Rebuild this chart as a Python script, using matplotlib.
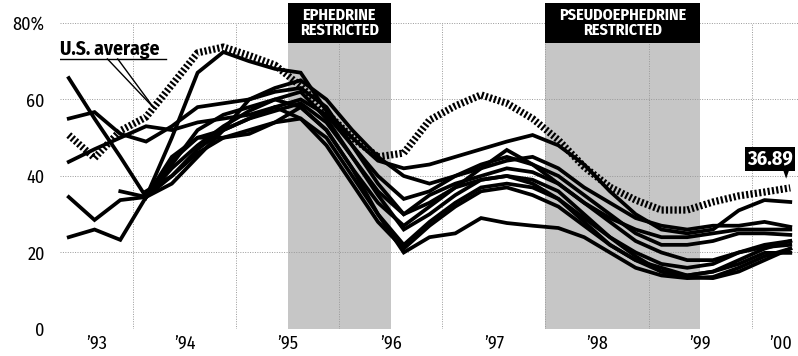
import numpy as np
import matplotlib
matplotlib.use('Agg')
from matplotlib import pyplot as plt
from matplotlib.patches import Polygon

plt.rcParams['font.family'] = ['Fira Sans Condensed', 'DejaVu Sans']

# quarterly points, 1992 Q4 .. 1999 Q4 (centre of each quarter)
quarter_start = 1992.75 + 0.25 * np.arange(29)
x = quarter_start + 0.125

us_average = [50.7, 44.7, 51.8, 55.4, 63.8, 72.2, 73.7, 71.5, 69.0, 63.5,
              56.5, 50.0, 45.0, 46.0, 54.6, 58.3, 61.2, 59.0, 55.0, 49.4,
              42.4, 37.1, 33.7, 31.1, 31.1, 33.2, 34.8, 35.8, 36.89]

nan = np.nan
states = [
    [65.6, 55, 45, 34.5, 50, 67, 72.4, 70, 68, 67, 57, 50, 44, 42, 43, 45, 47, 49, 50.7, 48, 43, 36, 30, 26, 25, 26, 31, 33.7, 33.2],
    [55, 56.7, 51, 49, 53, 58, 59, 60, 63, 65, 60, 52, 45, 40, 38, 40, 42, 44, 45, 42, 37, 33, 29, 27, 26, 27, 27, 28, 26.7],
    [43.7, 47, 50, 53, 52, 54, 55, 56, 58, 60, 56, 48, 40, 34, 36, 40, 43, 45, 43, 40, 35, 30, 25, 22, 22, 23, 25, 25, 24.6],
    [34.5, 28.5, 33.7, 34.5, 45, 50, 52, 55, 57, 59, 54, 45, 36, 30, 35, 38, 40, 42, 41, 38, 33, 28, 23, 20, 18, 18, 20, 21.4, 22],
    [24, 26, 23.3, 34.5, 44, 50, 50, 51, 54, 58, 52, 42, 30, 22, 28, 33, 37, 38, 37, 34, 28, 22, 18, 16, 14, 15, 17, 19.9, 19.9],
    [nan, nan, nan, 34.5, 42, 48, 53, 57, 60, 62, 55, 45, 35, 26, 30, 35, 39, 40, 39, 36, 30, 24, 19, 15, 13.5, 13.3, 15, 18, 21],
    [nan, nan, 36, 34.5, 40, 47, 52, 55, 58, 55, 48, 38, 28, 21, 27, 32, 36, 37, 35, 32, 27, 22, 18, 15, 14, 15, 18, 21, 23],
    [nan, nan, nan, 36, 40, 46, 50, 52, 54, 55, 50, 40, 30, 20, 24, 25, 29, 27.7, 27, 26.4, 24, 20, 16, 14, 13.3, 13.6, 16, 19, 21],
    [nan, nan, nan, 35, 43, 52, 56, 58, 60, 58, 52, 42, 33, 27, 32, 37, 42, 46.8, 43, 38, 33, 29, 26, 24, 24, 25, 26, 26, 26],
    [nan, nan, nan, 34.5, 38, 45, 52, 60, 62, 63, 58, 48, 38, 30, 33, 37, 39, 40, 38, 34, 29, 24, 20, 17, 16, 17, 20, 22, 23],
]

year_ticks = [1993.15, 1994, 1995, 1996, 1997, 1998, 1999, 1999.78]
year_labels = ['\u201993', '\u201994', '\u201995', '\u201996', '\u201997', '\u201998', '\u201999', '\u201900']
y_ticks = [0, 20, 40, 60, 80]
y_labels = ['0', '20', '40', '60', '80%']

restrictions = [(1995.0, 1996.0, 'EPHEDRINE\nRESTRICTED'),
                (1997.5, 1999.0, 'PSEUDOEPHEDRINE\nRESTRICTED')]

fig = plt.figure(figsize=(7.98, 3.56), dpi=100)
ax = fig.add_axes([60 / 798, 27 / 356, 738 / 798, 329 / 356])
ax.set_xlim(1992.79, 1999.95)
ax.set_ylim(0, 86)

# shaded periods with black title boxes on top
box_bottom, box_top = 74.8, 85.2
for start, end, label in restrictions:
    ax.fill_between([start, end], 0, box_bottom, color='#c6c6c6', lw=0, zorder=0)
    ax.fill_between([start, end], box_bottom, box_top, color='black', lw=0, zorder=1)
    ax.text((start + end) / 2, (box_bottom + box_top) / 2, label, color='white',
            ha='center', va='center', fontsize=11.5, fontweight='bold',
            linespacing=0.92, zorder=2)

# dotted grid
for yv in y_ticks:
    ax.axhline(yv, color='#999999', lw=0.7, ls=(0, (1, 1.5)), zorder=0.5)
for xv in np.arange(1993.5, 2000, 1.0):
    ax.plot([xv, xv], [0, 80], color='#999999', lw=0.7, ls=(0, (1, 1.5)), zorder=0.5)

for s in states:
    ax.plot(x, s, color='black', lw=2.7, solid_joinstyle='miter', zorder=3)

ax.plot(x, us_average, color='black', lw=5.2, ls=(0, (0.3, 0.3)), zorder=4)

# U.S. average callout
ax.text(1992.79, 71.6, 'U.S. average', fontsize=14, fontweight='bold',
        ha='left', va='baseline', zorder=5)
ax.plot([1992.79, 1993.82], [70.6, 70.6], color='black', lw=1.0, zorder=5)
ax.plot([1993.25, 1993.70], [70.6, 57.8], color='black', lw=1.0, zorder=5)
ax.plot([1993.35, 1993.70], [70.6, 57.8], color='black', lw=1.0, zorder=5)

# last value flag
ax.text(1999.46, 44.4, '%.2f' % us_average[-1], color='white', fontsize=14.5,
        fontweight='bold', ha='left', va='center', zorder=6, clip_on=False,
        bbox=dict(boxstyle='square,pad=0.1', fc='black', ec='none'))
ax.add_patch(Polygon([[1999.80, 42.0], [1999.87, 42.0], [1999.835, 39.3]],
                     closed=True, fc='black', ec='none', zorder=6))

ax.set_xticks(year_ticks)
ax.set_xticklabels(year_labels)
ax.set_yticks(y_ticks)
ax.set_yticklabels(y_labels)
ax.tick_params(length=0, labelsize=13)
ax.tick_params(axis='x', pad=4)
ax.tick_params(axis='y', pad=11)
for sp in ax.spines.values():
    sp.set_visible(False)

plt.savefig('out.png', dpi=100)
